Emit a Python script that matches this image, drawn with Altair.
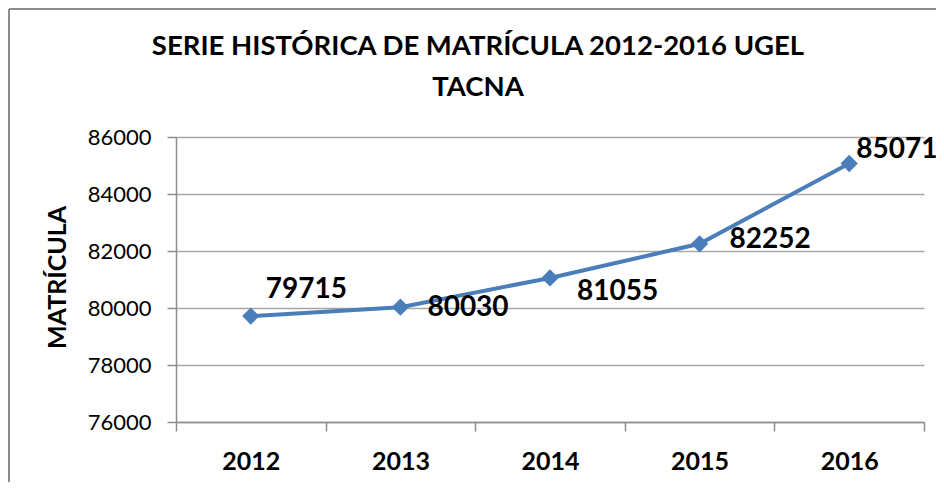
import altair as alt
import pandas as pd

years = ["2012", "2013", "2014", "2015", "2016"]
matricula = [79715, 80030, 81055, 82252, 85071]
y_ticks = [76000, 78000, 80000, 82000, 84000, 86000]
title_lines = ["SERIE HISTÓRICA DE MATRÍCULA 2012-2016 UGEL", "TACNA"]
y_title = "MATRÍCULA"

df = pd.DataFrame({"year": years, "matricula": matricula})

FONT = "Lato"
BLUE = "#4a7ebb"
GRAY = "#8c8c8c"

x_enc = alt.X("year:N", sort=years, title=None,
              scale=alt.Scale(paddingInner=0, paddingOuter=0),
              axis=alt.Axis(labelAngle=0, labelFont=FONT, labelFontSize=25,
                            labelFontWeight="bold", labelColor="black",
                            labelPadding=18, tickBand="extent", tickSize=9,
                            tickColor=GRAY, tickWidth=1.5, domainColor=GRAY,
                            domainWidth=1.5, grid=False))
y_enc = alt.Y("matricula:Q",
              scale=alt.Scale(domain=[76000, 86000], nice=False, zero=False),
              axis=alt.Axis(values=y_ticks, format="d", title=y_title,
                            labelFont=FONT, labelFontSize=22, labelColor="black",
                            labelPadding=16, tickSize=9, tickColor=GRAY,
                            tickWidth=1.5, domainColor=GRAY, domainWidth=1.5,
                            grid=True, gridColor="#a6a6a6", gridWidth=1.3,
                            titleFont=FONT, titleFontSize=25,
                            titleFontWeight="bold", titleColor="black",
                            titleX=-119, titleY=140, titleAngle=-90,
                            titleAlign="center", titleBaseline="middle"))

base = alt.Chart(df)

line = base.mark_line(color=BLUE, strokeWidth=4).encode(x=x_enc, y=y_enc)
pts = base.mark_point(shape="diamond", filled=True, color=BLUE, size=300,
                      opacity=1).encode(x="year:N", y="matricula:Q")

label_offsets = {"2012": (15, -26), "2013": (27, 1), "2014": (27, 14),
                 "2015": (30, -4), "2016": (7, -13)}
label_layers = []
for yr, (dx, dy) in label_offsets.items():
    label_layers.append(
        base.transform_filter(alt.datum.year == yr)
        .mark_text(font=FONT, fontSize=28, fontWeight="bold", color="black",
                   align="left", baseline="middle", dx=dx, dy=dy)
        .encode(x="year:N", y="matricula:Q", text=alt.Text("matricula:Q", format="d"))
    )

title_layers = []
for i, t in enumerate(title_lines):
    title_layers.append(
        alt.Chart(df).transform_filter(alt.datum.year == years[0])
        .mark_text(font=FONT, fontSize=27.5, fontWeight="bold", color="black",
                   align="center", baseline="middle")
        .encode(x=alt.value(302), y=alt.value(-90 + 41 * i), text=alt.value(t))
    )

border_top = alt.Chart(df).mark_rule(color=GRAY, strokeWidth=2).encode(
    x=alt.value(-167), x2=alt.value(760), y=alt.value(-128)
)
border_left = alt.Chart(df).mark_rule(color=GRAY, strokeWidth=2).encode(
    x=alt.value(-167), y=alt.value(-128), y2=alt.value(400)
)

chart = alt.layer(line, pts, *label_layers, *title_layers, border_top,
                  border_left).properties(
    width=748, height=285,
    autosize=alt.AutoSizeParams(type="none"),
    padding={"left": 168, "top": 129, "right": 12, "bottom": 60},
).configure_view(stroke=None)

chart.save("out.html", embed_options={"renderer": "svg", "actions": False})
